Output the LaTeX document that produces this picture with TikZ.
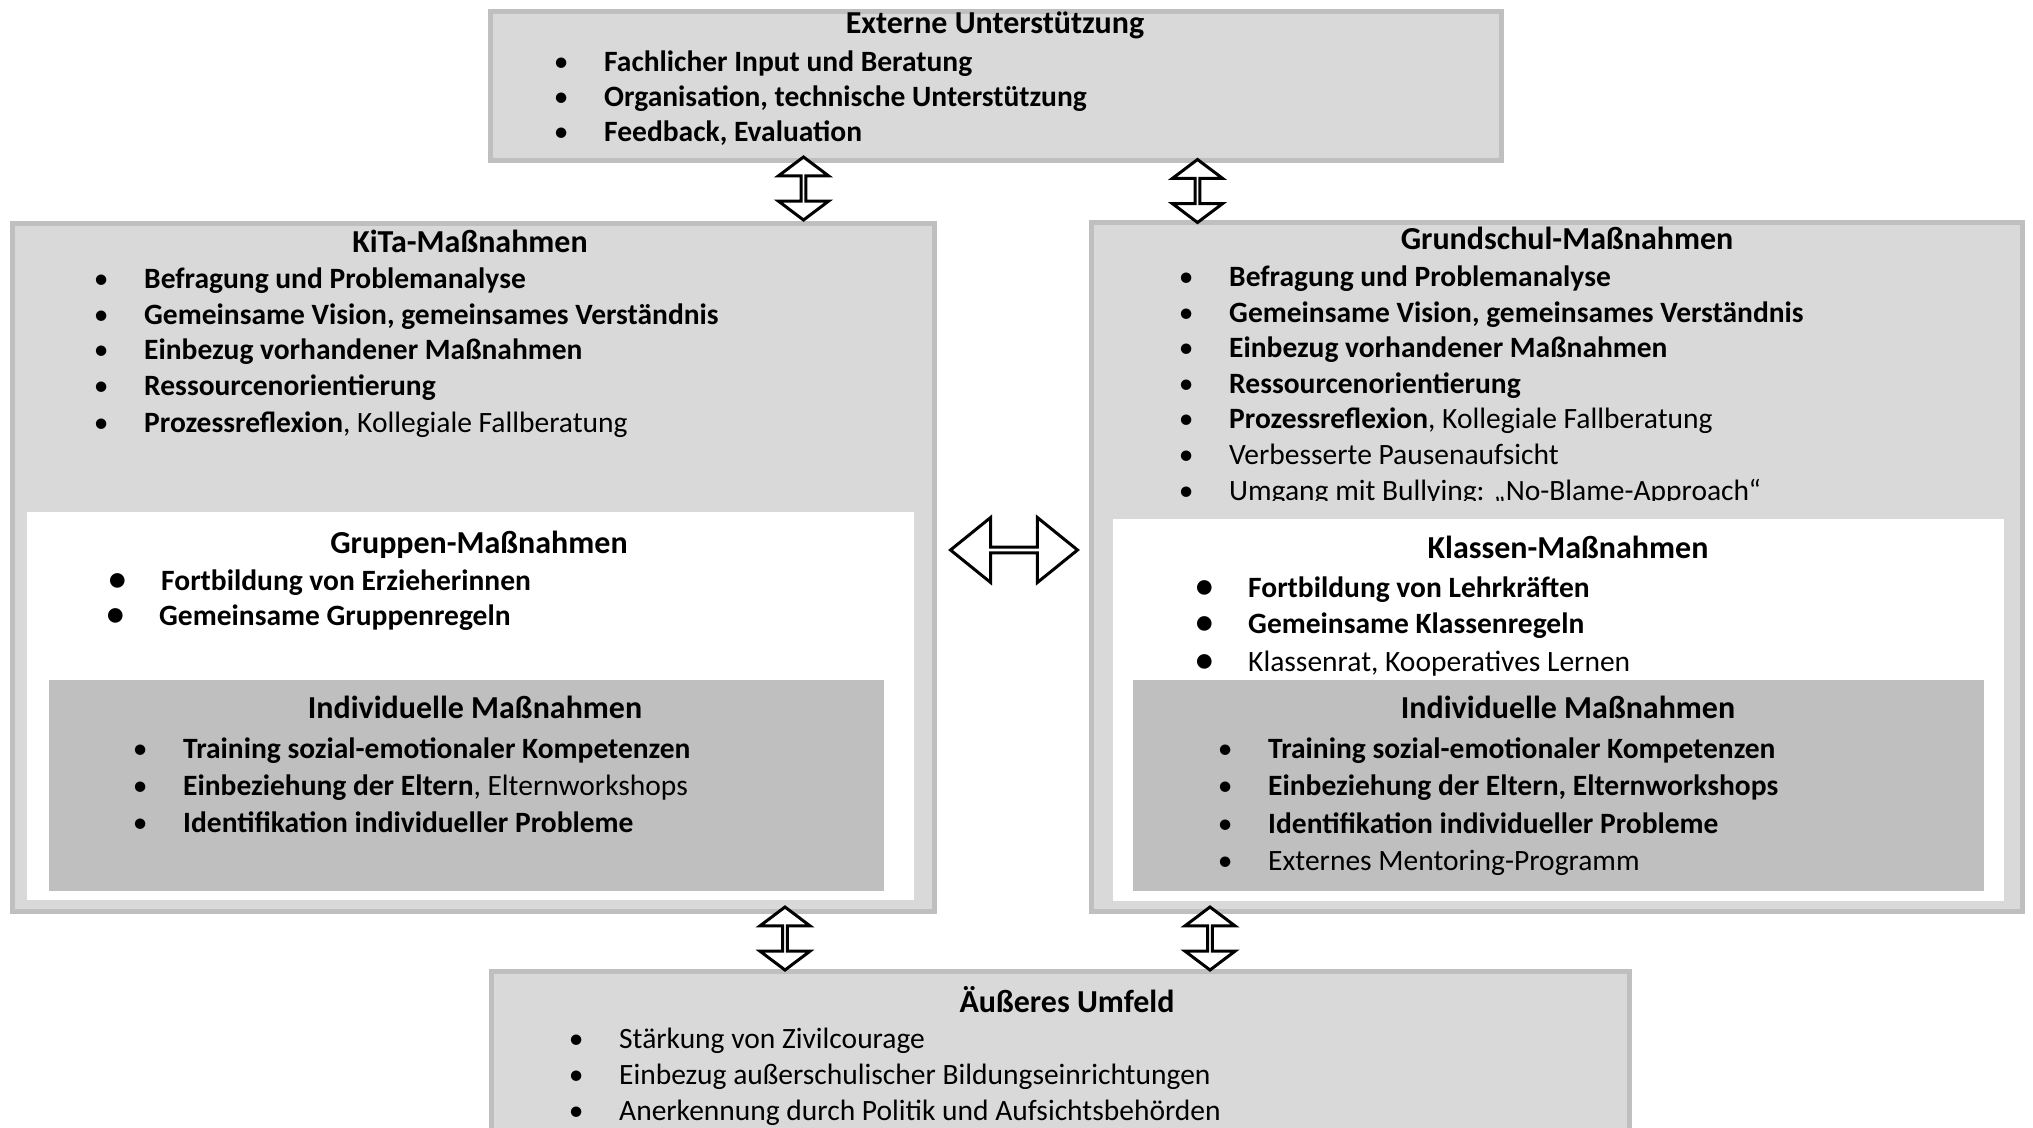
\documentclass[tikz,border=0pt]{standalone}
\usepackage{fontspec}
\setmainfont{Carlito}
\usetikzlibrary{shapes.arrows}

\definecolor{boxgray}{HTML}{D9D9D9}
\definecolor{rimgray}{HTML}{BFBFBF}
\definecolor{deepgray}{HTML}{BFBFBF}

% bullets: small ones and the larger ones of the group lists
\newcommand{\bu}{\llap{\makebox[0pt]{\mdseries\textbullet}\hspace{43pt}}}
\newcommand{\bbu}{\llap{\makebox[0pt]{\smash{\raisebox{-2pt}{\mdseries\scalebox{1.4}{\textbullet}}}}\hspace{43pt}}}

\tikzset{
    mainbox/.style={draw=rimgray, line width=5pt, fill=boxgray, inner sep=0pt},
    whitebox/.style={fill=white, inner sep=0pt},
    darkbox/.style={fill=deepgray, inner sep=0pt},
    ttl/.style={anchor=base, inner sep=0pt, font=\fontsize{32}{38}\selectfont\bfseries},
    itm/.style={anchor=base west, inner sep=0pt, font=\fontsize{29.5}{36}\selectfont\bfseries},
    itmr/.style={anchor=base west, inner sep=0pt, font=\fontsize{29.5}{36}\selectfont},
    updown/.style={double arrow, draw, line width=3pt, fill=white, rotate=90, inner sep=0pt,
        minimum height=63pt, minimum width=50pt, double arrow head extend=15pt, double arrow tip angle=106},
    leftright/.style={double arrow, draw, line width=3pt, fill=white, inner sep=0pt,
        minimum height=127pt, minimum width=65pt, double arrow head extend=15.5pt, double arrow tip angle=78}
}

\begin{document}
\begin{tikzpicture}[x=1pt, y=-1pt]
    \useasboundingbox (0,0) rectangle (2033,1127);

    % outer boxes
    \node[mainbox, minimum width=1011pt, minimum height=149pt] (ext) at (996,86) {};
    \node[mainbox, minimum width=922pt, minimum height=688pt] (kita) at (473.5,567.5) {};
    \node[mainbox, minimum width=931pt, minimum height=689pt] (grund) at (1557,567) {};
    \node[mainbox, minimum width=1138pt, minimum height=190pt] (umfeld) at (1060.5,1066.5) {};

    % Externe Unterstuetzung
    \node[ttl] (extT) at (995,33) {Externe Unterstützung};
    \node[itm] (ext1) at (604,71) {\bu Fachlicher Input und Beratung};
    \node[itm] (ext2) at (604,106) {\bu Organisation, technische Unterstützung};
    \node[itm] (ext3) at (604,141) {\bu Feedback, Evaluation};

    % KiTa
    \node[ttl] (kitaT) at (470,252) {KiTa-Maßnahmen};
    \node[itm] (kita1) at (144,288) {\bu Befragung und Problemanalyse};
    \node[itm] (kita2) at (144,324) {\bu Gemeinsame Vision, gemeinsames Verständnis};
    \node[itm] (kita3) at (144,359) {\bu Einbezug vorhandener Maßnahmen};
    \node[itm] (kita4) at (144,395) {\bu Ressourcenorientierung};
    \node[itmr] (kita5) at (144,432) {\bu \textbf{Prozessreflexion}, Kollegiale Fallberatung};

    \node[whitebox, minimum width=887pt, minimum height=388pt] (grp) at (470.5,706) {};
    \node[ttl] (grpT) at (479,553) {Gruppen-Maßnahmen};
    \node[itm] (grp1) at (161,590) {\bbu Fortbildung von Erzieherinnen};
    \node[itm] (grp2) at (159,625) {\bbu Gemeinsame Gruppenregeln};

    \node[darkbox, minimum width=835pt, minimum height=211pt] (indk) at (466.5,785.5) {};
    \node[ttl] (indkT) at (475,718) {Individuelle Maßnahmen};
    \node[itm] (indk1) at (183,758) {\bu Training sozial-emotionaler Kompetenzen};
    \node[itmr] (indk2) at (183,795) {\bu \textbf{Einbeziehung der Eltern}, Elternworkshops};
    \node[itm] (indk3) at (183,832) {\bu Identifikation individueller Probleme};

    % Grundschule
    \node[ttl] (grundT) at (1567,249) {Grundschul-Maßnahmen};
    \node[itm] (grund1) at (1229,286) {\bu Befragung und Problemanalyse};
    \node[itm] (grund2) at (1229,322) {\bu Gemeinsame Vision, gemeinsames Verständnis};
    \node[itm] (grund3) at (1229,357) {\bu Einbezug vorhandener Maßnahmen};
    \node[itm] (grund4) at (1229,393) {\bu Ressourcenorientierung};
    \node[itmr] (grund5) at (1229,428) {\bu \textbf{Prozessreflexion}, Kollegiale Fallberatung};
    \node[itmr] (grund6) at (1229,464) {\bu Verbesserte Pausenaufsicht};
    \begin{scope}
        \clip (1089,0) rectangle (2025,500);
        \node[itmr] (grund7) at (1229,500) {\bu Umgang mit Bullying: „No-Blame-Approach“};
    \end{scope}

    \node[whitebox, minimum width=891pt, minimum height=382pt] (kls) at (1558.5,710) {};
    \node[ttl] (klsT) at (1568,558) {Klassen-Maßnahmen};
    \node[itm] (kls1) at (1248,597) {\bbu Fortbildung von Lehrkräften};
    \node[itm] (kls2) at (1248,633) {\bbu Gemeinsame Klassenregeln};
    \node[itmr] (kls3) at (1248,671) {\bbu Klassenrat, Kooperatives Lernen};

    \node[darkbox, minimum width=851pt, minimum height=211pt] (indg) at (1558.5,785.5) {};
    \node[ttl] (indgT) at (1568,718) {Individuelle Maßnahmen};
    \node[itm] (indg1) at (1268,758) {\bu Training sozial-emotionaler Kompetenzen};
    \node[itm] (indg2) at (1268,795) {\bu Einbeziehung der Eltern, Elternworkshops};
    \node[itm] (indg3) at (1268,833) {\bu Identifikation individueller Probleme};
    \node[itmr] (indg4) at (1268,870) {\bu Externes Mentoring-Programm};

    % Aeusseres Umfeld
    \node[ttl] (umfeldT) at (1067,1012) {Äußeres Umfeld};
    \node[itmr] (umfeld1) at (619,1048) {\bu Stärkung von Zivilcourage};
    \node[itmr] (umfeld2) at (619,1084) {\bu Einbezug außerschulischer Bildungseinrichtungen};
    \node[itmr] (umfeld3) at (619,1120) {\bu Anerkennung durch Politik und Aufsichtsbehörden};

    % arrows between the boxes
    \node[updown] (extKita) at (803.5,188.5) {};
    \node[updown] (extGrund) at (1197.5,191) {};
    \node[leftright] (kitaGrund) at (1014,550) {};
    \node[updown] (kitaUmf) at (785,938.5) {};
    \node[updown] (grundUmf) at (1210,938.5) {};
\end{tikzpicture}
\end{document}
